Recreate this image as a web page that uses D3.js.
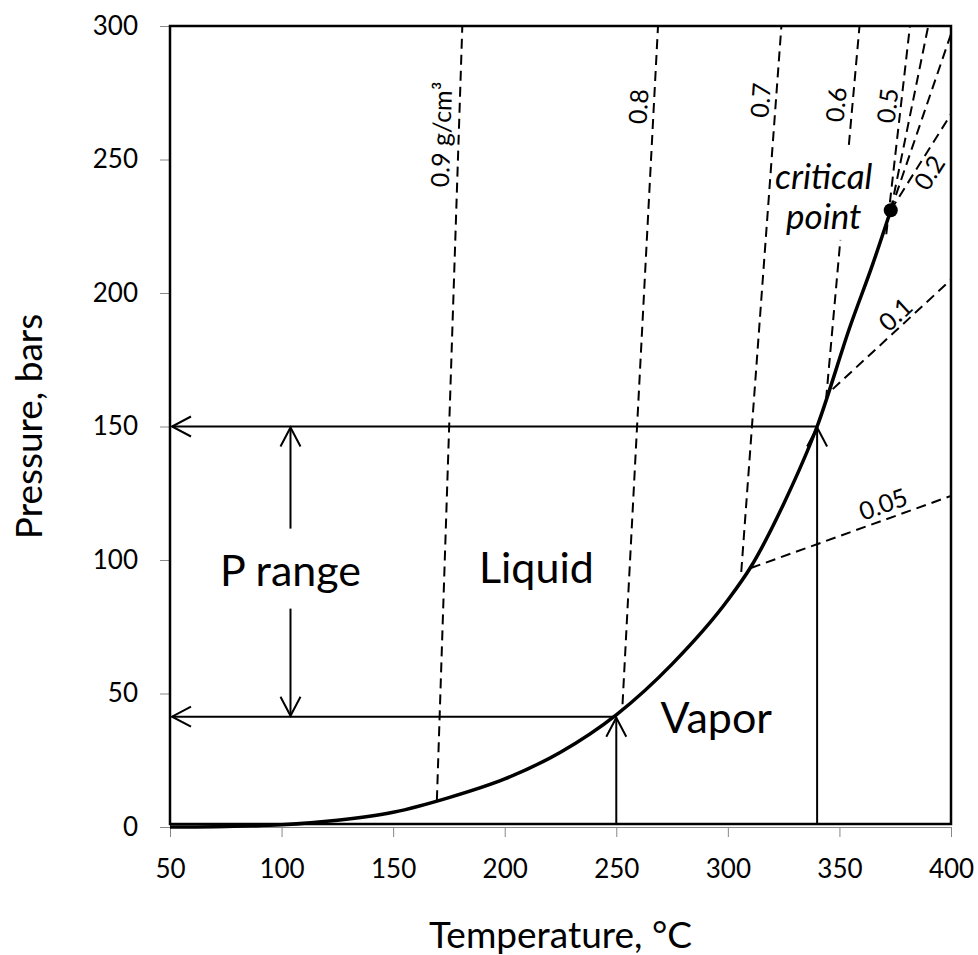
<!DOCTYPE html>
<html>
<head>
<meta charset="utf-8">
<script src="https://cdn.jsdelivr.net/npm/d3@7"></script>
<style>
  body { margin: 0; background: #fff; }
  svg { display: block; }
  text { font-family: Lato, "Open Sans", sans-serif; fill: #000; }
</style>
</head>
<body>
<svg id="chart" width="978" height="955"></svg>
<script>
// Saturation (boiling) curve
const satTemp = [50, 75, 100, 125, 150, 175, 200, 225, 250, 275, 300, 310, 325, 340, 355, 365, 373];
const satPres = [0, 0.2, 0.8, 2.5, 5.5, 11, 18, 28, 42, 61, 85, 97, 121, 150, 188, 211, 231];
const criticalPoint = [373, 231];

// Isochores (lines of equal density): label, start [T, P], end [T, P]
const isoLabels = ['0.9 g/cm³', '0.8', '0.7', '0.6', '0.5', '', '', '0.2', '0.1', '0.05'];
const isoStart = [[169.6, 10], [252.8, 46], [306, 95.5], [344, 160], [371, 222], [373, 231], [373, 231], [373, 231], [347, 164], [310.3, 97]];
const isoEnd = [[181, 300], [268.7, 300], [324, 300], [359, 300], [381.6, 300], [389.8, 300], [400, 297], [400, 267], [400, 205], [400, 124]];

// Operating points picked on the curve
const pickTemp = [250, 340];
const pickPres = [41.3, 150];
const rangeTemp = 104;

// Axis ticks
const xTicks = [50, 100, 150, 200, 250, 300, 350, 400];
const yTicks = [0, 50, 100, 150, 200, 250, 300];

const svg = d3.select('#chart');

const x = d3.scaleLinear().domain([50, 400]).range([170, 951]);
const y = d3.scaleLinear().domain([0, 300]).range([827, 26]);

/**
 * Axes
 */
const xAxis = svg.append('g')
  .attr('transform', `translate(0,${y(0)})`)
  .call(d3.axisBottom(x).tickValues(xTicks).tickSize(10).tickPadding(23));

const yAxis = svg.append('g')
  .attr('transform', `translate(${x(50)},0)`)
  .call(d3.axisLeft(y).tickValues(yTicks).tickSize(10).tickPadding(22));

[xAxis, yAxis].forEach(a => {
  a.select('.domain').attr('stroke', '#888').attr('stroke-width', 1);
  a.selectAll('.tick line').attr('stroke', '#888').attr('stroke-width', 1);
  a.selectAll('.tick text')
    .style('font-family', 'Lato, "Open Sans", sans-serif')
    .style('font-size', '26px')
    .attr('fill', '#000');
});

svg.append('text')
  .attr('x', (x(50) + x(400)) / 2)
  .attr('y', 948)
  .attr('text-anchor', 'middle')
  .style('font-size', '37px')
  .text('Temperature, °C');

svg.append('text')
  .attr('transform', `translate(42,${(y(0) + y(300)) / 2}) rotate(-90)`)
  .attr('text-anchor', 'middle')
  .style('font-size', '37px')
  .text('Pressure, bars');

// plot frame
svg.append('rect')
  .attr('x', x(50))
  .attr('y', y(300))
  .attr('width', x(400) - x(50))
  .attr('height', y(0) - 3 - y(300))
  .attr('fill', 'none')
  .attr('stroke', '#000')
  .attr('stroke-width', 2.5);

/**
 * Isochores and their labels
 */
const isoGroup = svg.append('g').attr('class', 'isochores');
const labelFrac = [0.859, 0.88, 0.862, 0.786, 0.61, 0, 0, 0.46, 0.6, 0.687];
const labelOff = [17, 15, 15, 16, 13, 0, 0, -13, 12, 15];

isoStart.forEach((s, i) => {
  const e = isoEnd[i];
  const x1 = x(s[0]), y1 = y(s[1]), x2 = x(e[0]), y2 = y(e[1]);
  isoGroup.append('line')
    .attr('x1', x1).attr('y1', y1)
    .attr('x2', x2).attr('y2', y2)
    .attr('stroke', '#000')
    .attr('stroke-width', 2)
    .attr('stroke-dasharray', '10,6');

  if (!isoLabels[i]) return;
  const ang = Math.atan2(y2 - y1, x2 - x1);
  const t = labelFrac[i];
  // offset toward the "up" side of the rotated text
  const cx = x1 + (x2 - x1) * t + Math.sin(ang) * labelOff[i];
  const cy = y1 + (y2 - y1) * t - Math.cos(ang) * labelOff[i];
  isoGroup.append('text')
    .attr('transform', `translate(${cx},${cy}) rotate(${ang * 180 / Math.PI})`)
    .attr('text-anchor', 'middle')
    .attr('dy', '0.35em')
    .style('font-size', '25px')
    .text(isoLabels[i]);
});

/**
 * Region labels
 */
const cpText = svg.append('g');
cpText.append('text')
  .attr('x', x(343)).attr('y', y(239))
  .attr('text-anchor', 'middle')
  .style('font-size', '35px')
  .style('font-style', 'italic')
  .text('critical');
cpText.append('text')
  .attr('x', x(343)).attr('y', y(224))
  .attr('text-anchor', 'middle')
  .style('font-size', '35px')
  .style('font-style', 'italic')
  .text('point');
const bb = cpText.node().getBBox();
cpText.insert('rect', 'text')
  .attr('x', bb.x + 3).attr('y', bb.y - 6)
  .attr('width', bb.width - 6).attr('height', bb.height + 10)
  .attr('fill', '#fff');

svg.append('text')
  .attr('x', x(214.2)).attr('y', y(91.4))
  .attr('text-anchor', 'middle')
  .style('font-size', '43px')
  .text('Liquid');

svg.append('text')
  .attr('x', x(294.8)).attr('y', y(35.2))
  .attr('text-anchor', 'middle')
  .style('font-size', '43px')
  .text('Vapor');

/**
 * Saturation curve
 */
const line = d3.line()
  .x(d => x(d[0]))
  .y(d => y(d[1]))
  .curve(d3.curveMonotoneX);

svg.append('path')
  .datum(satTemp.map((t, i) => [t, satPres[i]]))
  .attr('d', line)
  .attr('fill', 'none')
  .attr('stroke', '#000')
  .attr('stroke-width', 3.5);

/**
 * Arrows
 */
const arrowGroup = svg.append('g').attr('class', 'arrows');

function drawArrow(x1, y1, x2, y2, head) {
  arrowGroup.append('line')
    .attr('x1', x1).attr('y1', y1)
    .attr('x2', x2).attr('y2', y2)
    .attr('stroke', '#000')
    .attr('stroke-width', 2);
  if (!head) return;
  const ang = Math.atan2(y2 - y1, x2 - x1);
  const len = 19, half = 10;
  const bx = x2 - Math.cos(ang) * len, by = y2 - Math.sin(ang) * len;
  const nx = -Math.sin(ang) * half, ny = Math.cos(ang) * half;
  arrowGroup.append('path')
    .attr('d', `M${bx + nx},${by + ny}L${x2},${y2}L${bx - nx},${by - ny}`)
    .attr('fill', 'none')
    .attr('stroke', '#000')
    .attr('stroke-width', 2);
}

pickTemp.forEach((t, i) => {
  // from the curve back to the pressure axis
  drawArrow(x(t), y(pickPres[i]), x(50) + 2, y(pickPres[i]), true);
  // from the temperature axis up to the curve
  drawArrow(x(t), y(0) - 2, x(t), y(pickPres[i]) + 1, true);
});

// pressure range double arrow
const midY = (y(pickPres[0]) + y(pickPres[1])) / 2;
drawArrow(x(rangeTemp), midY - 43, x(rangeTemp), y(pickPres[1]) + 1, true);
drawArrow(x(rangeTemp), midY + 37, x(rangeTemp), y(pickPres[0]) - 1, true);

svg.append('text')
  .attr('x', x(rangeTemp))
  .attr('y', midY + 14)
  .attr('text-anchor', 'middle')
  .style('font-size', '43px')
  .text('P range');

// critical point marker
svg.append('circle')
  .attr('cx', x(criticalPoint[0]))
  .attr('cy', y(criticalPoint[1]))
  .attr('r', 7)
  .attr('fill', '#000');
</script>
</body>
</html>
